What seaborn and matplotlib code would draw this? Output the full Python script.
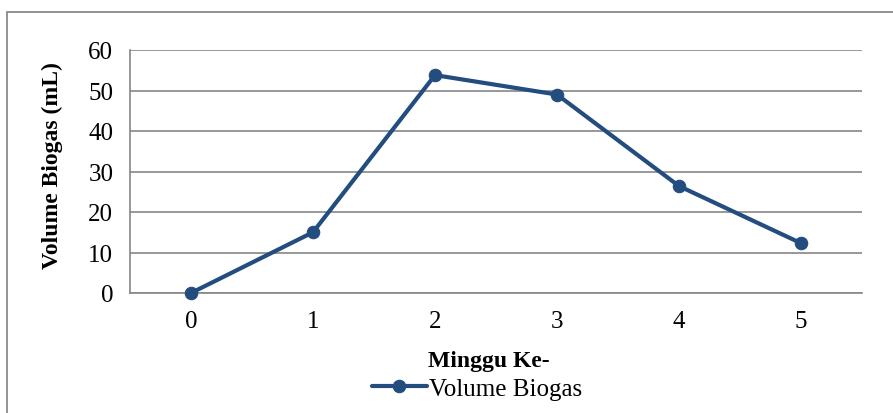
import matplotlib
matplotlib.use("Agg")
import matplotlib.pyplot as plt
import pandas as pd
import seaborn as sns
from matplotlib.patches import Rectangle

# data
minggu = [0, 1, 2, 3, 4, 5]
volume = [0, 15, 53.8, 49, 26.4, 12.3]
y_ticks = [0, 10, 20, 30, 40, 50, 60]

df = pd.DataFrame({"Minggu Ke-": minggu, "Volume Biogas": volume})

sns.set_style("white")
plt.rcParams["font.family"] = ["Liberation Serif", "DejaVu Serif"]
plt.rcParams["text.color"] = "black"
plt.rcParams["axes.labelcolor"] = "black"
plt.rcParams["xtick.labelcolor"] = "black"
plt.rcParams["ytick.labelcolor"] = "black"

LINE = "#234c7f"
GRID = "#868686"
FS = 18
LFS = 17

fig = plt.figure(figsize=(8.93, 4.14), dpi=100)
ax = fig.add_axes([130 / 893, 120 / 414, 732 / 893, 243 / 414])

sns.lineplot(data=df, x="Minggu Ke-", y="Volume Biogas", ax=ax, color=LINE,
             linewidth=3.0, marker="o", markersize=9, markeredgecolor=LINE,
             label="Volume Biogas", legend=False, clip_on=False, zorder=5)

ax.set_xlim(-0.5, 5.5)
ax.set_ylim(0, 60)
ax.set_yticks(y_ticks)
ax.set_xticks(minggu)
ax.set_xticks([m - 0.5 for m in minggu] + [5.5], minor=True)
ax.tick_params(axis="x", which="major", length=0, labelsize=FS, pad=12)
ax.tick_params(axis="x", which="minor", length=6, width=1, color=GRID, direction="out")
ax.tick_params(axis="y", length=6, width=1, color=GRID, direction="out", labelsize=FS, pad=6)
ax.yaxis.grid(True, color=GRID, linewidth=1.2)
ax.xaxis.grid(False)

for s in ["top", "right"]:
    ax.spines[s].set_visible(False)
for s in ["left", "bottom"]:
    ax.spines[s].set_color(GRID)
    ax.spines[s].set_linewidth(1.2)

ax.set_ylabel("Volume Biogas (mL)", fontsize=LFS, fontweight="bold")
ax.set_xlabel("Minggu Ke-", fontsize=LFS, fontweight="bold")
ax.yaxis.set_label_coords(-0.092, 0.53)
ax.xaxis.set_label_coords(0.49, -0.235)

handles, labels = ax.get_legend_handles_labels()
fig.legend(handles, labels, loc="center", bbox_to_anchor=(0.534, 0.058),
           frameon=False, fontsize=FS, handlelength=2.2, handletextpad=0.1)

# outer chart border
fig.add_artist(Rectangle((7 / 893, -0.1), 1.0, 0.1 + 401 / 414,
                         transform=fig.transFigure, fill=False,
                         edgecolor="#8a8a8a", linewidth=1.3))

plt.savefig("out.png", dpi=100)
